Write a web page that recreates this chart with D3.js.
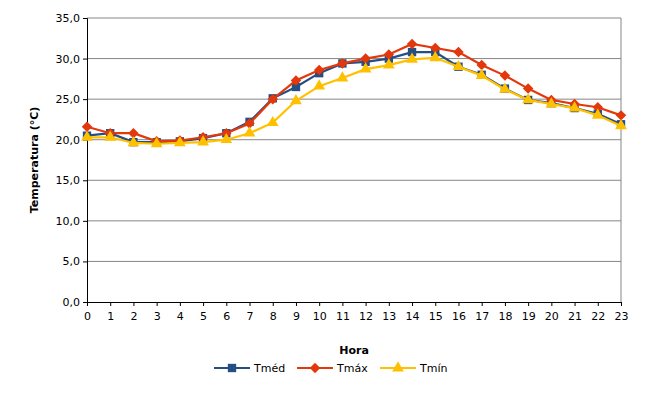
<!DOCTYPE html>
<meta charset="utf-8">
<html>
<head>
<script src="https://cdn.jsdelivr.net/npm/d3@7"></script>
<style>body{margin:0;background:#fff}text{font-family:"DejaVu Sans",Verdana,sans-serif}</style>
</head>
<body>
<svg id="chart" width="662" height="400"></svg>
<script>
var horas = d3.range(24);
var series = [
  {nome:"Tméd", cor:"#254E83", simb:d3.symbolSquare, tam:70, rot:0,
   v:[20.5,20.8,19.7,19.7,19.8,20.2,20.8,22.2,25.1,26.5,28.2,29.4,29.6,30.0,30.8,30.8,29.0,28.0,26.3,24.9,24.5,23.9,23.2,21.9]},
  {nome:"Tmáx", cor:"#E2380C", simb:d3.symbolSquare, tam:55, rot:45,
   v:[21.6,20.8,20.8,19.8,19.9,20.3,20.8,22.0,25.0,27.3,28.6,29.4,30.0,30.5,31.8,31.3,30.8,29.2,27.9,26.3,24.9,24.4,24.0,23.0]},
  {nome:"Tmín", cor:"#FFC000", simb:d3.symbolTriangle, tam:60, rot:0,
   v:[20.3,20.3,19.6,19.5,19.6,19.7,20.0,20.8,22.1,24.8,26.6,27.6,28.7,29.2,29.9,30.1,29.0,27.9,26.2,24.9,24.4,23.9,23.0,21.7]}
];
var svg = d3.select("#chart");
var x = d3.scaleLinear().domain([0,23]).range([87,621]);
var y = d3.scaleLinear().domain([0,35]).range([302,18]);
var fmt = function(d){ return d3.format(".1f")(d).replace(".", ","); };

// grid
svg.append("g").selectAll("line").data(d3.range(5,36,5)).enter().append("line")
  .attr("x1",87).attr("x2",621).attr("y1",y).attr("y2",y)
  .attr("stroke","#868686").attr("stroke-width",1);
svg.append("line").attr("x1",621).attr("x2",621).attr("y1",18).attr("y2",302).attr("stroke","#868686");

var yAx = svg.append("g").attr("transform","translate(87,0)")
  .call(d3.axisLeft(y).tickValues(d3.range(0,36,5)).tickFormat(fmt).tickSize(4));
var xAx = svg.append("g").attr("transform","translate(0,302)")
  .call(d3.axisBottom(x).tickValues(horas).tickSize(4));
[yAx,xAx].forEach(function(a){
  a.select(".domain").attr("stroke","#000");
  a.selectAll("line").attr("stroke","#000");
  a.selectAll("text").attr("font-size",11).attr("fill","#000");
});
xAx.selectAll("text").attr("dy","1em");

svg.append("text").attr("x",354).attr("y",354).attr("text-anchor","middle")
  .attr("font-size",11).attr("font-weight","bold").text("Hora");
svg.append("text").attr("transform","translate(38,160) rotate(-90)").attr("text-anchor","middle")
  .attr("font-size",11).attr("font-weight","bold").text("Temperatura (°C)");

var line = d3.line().x(function(d,i){return x(i);}).y(function(d){return y(d);});
series.forEach(function(s){
  var g = svg.append("g");
  g.append("path").datum(s.v).attr("d",line).attr("fill","none").attr("stroke",s.cor).attr("stroke-width",2.2);
  g.selectAll("path.m").data(s.v).enter().append("path").attr("class","m")
    .attr("d",d3.symbol().type(s.simb).size(s.tam))
    .attr("transform",function(d,i){return "translate("+x(i)+","+y(d)+") rotate("+s.rot+")";})
    .attr("fill",s.cor);
});

// legend
var lg = svg.selectAll("g.lg").data(series).enter().append("g").attr("class","lg")
  .attr("transform",function(d,i){return "translate("+(214+i*83)+",368)";});
lg.append("line").attr("x1",0).attr("x2",36).attr("stroke",function(d){return d.cor;}).attr("stroke-width",2.2);
lg.append("path").attr("transform",function(d){return "translate(18,0) rotate("+d.rot+")";})
  .attr("d",function(d){return d3.symbol().type(d.simb).size(d.tam)();})
  .attr("fill",function(d){return d.cor;});
lg.append("text").attr("x",40).attr("y",4).attr("font-size",11).text(function(d){return d.nome;});
</script>
</body>
</html>
